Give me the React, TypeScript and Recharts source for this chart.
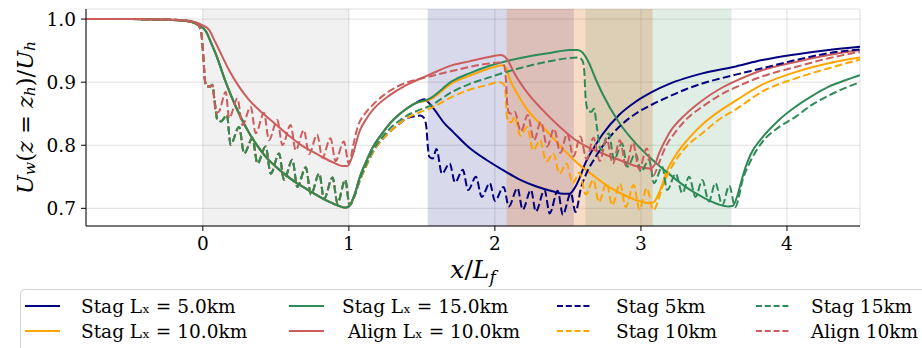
import React from 'react';
import { LineChart, Line, XAxis, YAxis, CartesianGrid, ReferenceArea } from 'recharts';

type Pt = [number, number];

const xTicks = [0, 1, 2, 3, 4];
const yTicks = [0.7, 0.8, 0.9, 1.0];

// shaded wind-farm extents in x/L_f
const bandStart = [0, 1.54, 2.08, 2.62, 2.08];
const bandEnd = [1, 2.54, 3.08, 3.62, 3.08];
const bandColors = ['#808080', '#000080', '#ffa500', '#2e8b57', '#cd5c5c'];

// first farm, staggered layouts (identical for all three)
const stagSolidFarm1: Pt[] = [
  [-0.8, 1.0], [-0.5, 1.0], [-0.25, 0.999], [-0.12, 0.997], [-0.06, 0.994], [-0.02, 0.989],
  [0.02, 0.981], [0.05, 0.966], [0.09, 0.944], [0.157, 0.9], [0.226, 0.861], [0.294, 0.829],
  [0.362, 0.803], [0.43, 0.782], [0.5, 0.766], [0.567, 0.753], [0.636, 0.741], [0.7, 0.732],
  [0.78, 0.721], [0.86, 0.711], [0.93, 0.704], [0.975, 0.701],
];
const stagSolidRise: Pt[] = [
  [1.0, 0.703], [1.04, 0.722], [1.073, 0.748], [1.12, 0.775], [1.164, 0.797], [1.22, 0.816],
  [1.278, 0.834], [1.34, 0.848], [1.39, 0.857], [1.45, 0.866],
];
const navySolidTail: Pt[] = [
  [1.49, 0.871], [1.517, 0.873], [1.545, 0.868], [1.574, 0.86], [1.6, 0.852], [1.65, 0.836],
  [1.71, 0.822], [1.825, 0.796], [1.94, 0.777], [2.053, 0.761], [2.167, 0.746], [2.28, 0.735],
  [2.394, 0.727], [2.47, 0.723], [2.51, 0.723], [2.54, 0.73], [2.58, 0.748], [2.62, 0.772],
  [2.68, 0.797], [2.736, 0.817], [2.85, 0.848], [2.964, 0.869], [3.08, 0.885], [3.19, 0.897],
  [3.3, 0.906], [3.42, 0.914], [3.65, 0.925], [3.83, 0.935], [4.058, 0.944], [4.286, 0.951], [4.5, 0.956],
];
const orangeSolidTail: Pt[] = [
  [1.552, 0.872], [1.71, 0.899], [1.825, 0.91], [1.94, 0.92], [2.03, 0.926], [2.06, 0.927],
  [2.078, 0.921], [2.1, 0.906], [2.167, 0.876], [2.21, 0.86], [2.326, 0.83], [2.44, 0.801],
  [2.554, 0.774], [2.668, 0.753], [2.78, 0.734], [2.896, 0.72], [3.01, 0.71], [3.065, 0.708],
  [3.09, 0.71], [3.115, 0.72], [3.146, 0.738], [3.17, 0.755], [3.24, 0.785], [3.32, 0.809],
  [3.42, 0.833], [3.53, 0.853], [3.65, 0.871], [3.83, 0.896], [4.058, 0.916], [4.286, 0.93], [4.5, 0.939],
];
const greenSolidTail: Pt[] = [
  [1.552, 0.874], [1.71, 0.902], [1.825, 0.914], [1.94, 0.924], [2.167, 0.938], [2.394, 0.947],
  [2.51, 0.951], [2.565, 0.951], [2.6, 0.947], [2.645, 0.93], [2.69, 0.905], [2.736, 0.882],
  [2.85, 0.836], [2.964, 0.803], [3.078, 0.777], [3.19, 0.755], [3.306, 0.734], [3.42, 0.718],
  [3.534, 0.706], [3.6, 0.703], [3.63, 0.704], [3.66, 0.72], [3.69, 0.745], [3.716, 0.765],
  [3.75, 0.785], [3.83, 0.812], [3.94, 0.839], [4.058, 0.861], [4.17, 0.878], [4.286, 0.893],
  [4.4, 0.903], [4.5, 0.911],
];
const alignSolid: Pt[] = [
  [-0.8, 1.0], [-0.5, 1.0], [-0.25, 0.9995], [-0.12, 0.998], [-0.05, 0.995], [0, 0.99],
  [0.043, 0.983], [0.08, 0.966], [0.112, 0.951], [0.18, 0.919], [0.248, 0.893], [0.316, 0.872],
  [0.408, 0.851], [0.5, 0.833], [0.59, 0.815], [0.681, 0.799], [0.743, 0.791], [0.82, 0.781],
  [0.9, 0.772], [0.96, 0.767], [0.99, 0.767], [1.02, 0.78], [1.073, 0.822], [1.12, 0.842],
  [1.164, 0.856], [1.278, 0.879], [1.39, 0.895], [1.483, 0.905], [1.552, 0.912], [1.71, 0.927],
  [1.825, 0.933], [1.94, 0.939], [2.04, 0.943], [2.07, 0.94], [2.1, 0.93], [2.12, 0.92],
  [2.21, 0.887], [2.326, 0.856], [2.44, 0.83], [2.554, 0.808], [2.62, 0.799], [2.736, 0.787],
  [2.85, 0.777], [2.964, 0.767], [3.067, 0.763], [3.1, 0.772], [3.124, 0.787], [3.19, 0.818],
  [3.306, 0.849], [3.42, 0.871], [3.53, 0.888], [3.65, 0.902], [3.83, 0.919], [4.058, 0.932],
  [4.286, 0.943], [4.5, 0.951],
];

const stagDashedFarm1: Pt[] = [
  [-0.8, 1.0], [-0.5, 1.0], [-0.2, 0.999], [-0.08, 0.996], [-0.03, 0.99], [-0.01, 0.977],
  [0.005, 0.935], [0.015, 0.902], [0.03, 0.893], [0.05, 0.893], [0.065, 0.896], [0.08, 0.872],
  [0.1, 0.84], [0.125, 0.838], [0.165, 0.848], [0.19, 0.801], [0.248, 0.829], [0.283, 0.787],
  [0.34, 0.811], [0.374, 0.771], [0.43, 0.798], [0.465, 0.755], [0.522, 0.787], [0.556, 0.745],
  [0.613, 0.777], [0.647, 0.734], [0.705, 0.765], [0.74, 0.722], [0.797, 0.755], [0.83, 0.715],
  [0.888, 0.749], [0.922, 0.708], [0.975, 0.745], [1.005, 0.705],
];
const stagDashedRise: Pt[] = [
  [1.04, 0.72], [1.073, 0.743], [1.12, 0.768], [1.164, 0.789], [1.22, 0.807], [1.278, 0.821],
  [1.34, 0.833], [1.39, 0.842],
];
const navyDashedTail: Pt[] = [
  [1.45, 0.846], [1.49, 0.847], [1.515, 0.843], [1.53, 0.83], [1.54, 0.8], [1.55, 0.782],
  [1.575, 0.779], [1.6, 0.794], [1.637, 0.755], [1.69, 0.771], [1.727, 0.741], [1.78, 0.761],
  [1.817, 0.729], [1.87, 0.75], [1.91, 0.718], [1.965, 0.74], [2.0, 0.712], [2.06, 0.734],
  [2.095, 0.703], [2.155, 0.732], [2.19, 0.698], [2.247, 0.729], [2.28, 0.695], [2.34, 0.729],
  [2.375, 0.692], [2.43, 0.728], [2.465, 0.69], [2.52, 0.724], [2.552, 0.694], [2.59, 0.733],
  [2.62, 0.752], [2.68, 0.778], [2.736, 0.798], [2.85, 0.829], [2.964, 0.85], [3.08, 0.865],
  [3.19, 0.877], [3.3, 0.888], [3.42, 0.898], [3.53, 0.905], [3.65, 0.912], [3.83, 0.922],
  [4.058, 0.935], [4.286, 0.946], [4.5, 0.952],
];
const orangeDashedTail: Pt[] = [
  [1.483, 0.852], [1.552, 0.858], [1.71, 0.877], [1.825, 0.888], [1.94, 0.895], [2.03, 0.9],
  [2.06, 0.897], [2.072, 0.885], [2.082, 0.846], [2.095, 0.837], [2.115, 0.837], [2.135, 0.845],
  [2.175, 0.815], [2.22, 0.829], [2.262, 0.792], [2.31, 0.808], [2.352, 0.774], [2.4, 0.787],
  [2.442, 0.755], [2.49, 0.771], [2.532, 0.74], [2.58, 0.757], [2.622, 0.722], [2.675, 0.745],
  [2.712, 0.71], [2.765, 0.74], [2.803, 0.705], [2.857, 0.739], [2.895, 0.702], [2.95, 0.737],
  [2.99, 0.698], [3.04, 0.732], [3.085, 0.697], [3.12, 0.714], [3.146, 0.733], [3.238, 0.776],
  [3.32, 0.8], [3.42, 0.819], [3.53, 0.84], [3.65, 0.857], [3.83, 0.885], [4.058, 0.906],
  [4.286, 0.922], [4.5, 0.936],
];
const greenDashedTail: Pt[] = [
  [1.04, 0.721], [1.073, 0.745], [1.12, 0.771], [1.164, 0.792], [1.22, 0.81], [1.278, 0.826],
  [1.34, 0.838], [1.39, 0.846], [1.483, 0.856], [1.552, 0.862], [1.71, 0.885], [1.825, 0.897],
  [1.94, 0.906], [2.167, 0.922], [2.394, 0.934], [2.5, 0.938], [2.575, 0.939], [2.6, 0.934],
  [2.612, 0.918], [2.622, 0.872], [2.64, 0.854], [2.662, 0.853], [2.678, 0.858], [2.7, 0.826],
  [2.725, 0.792], [2.78, 0.819], [2.816, 0.777], [2.87, 0.803], [2.907, 0.766], [2.964, 0.787],
  [3.0, 0.758], [3.055, 0.777], [3.09, 0.74], [3.146, 0.766], [3.18, 0.729], [3.238, 0.755],
  [3.283, 0.724], [3.33, 0.75], [3.374, 0.718], [3.42, 0.745], [3.465, 0.711], [3.51, 0.74],
  [3.557, 0.705], [3.605, 0.736], [3.645, 0.702], [3.7, 0.748], [3.74, 0.77], [3.83, 0.805],
  [3.94, 0.828], [4.058, 0.845], [4.17, 0.864], [4.286, 0.879], [4.4, 0.891], [4.5, 0.9],
];
const alignDashed: Pt[] = [
  [-0.8, 1.0], [-0.5, 1.0], [-0.2, 0.999], [-0.08, 0.996], [-0.03, 0.99], [-0.01, 0.977],
  [0.005, 0.935], [0.015, 0.902], [0.03, 0.893], [0.05, 0.893], [0.065, 0.895], [0.078, 0.872],
  [0.089, 0.851], [0.11, 0.853], [0.157, 0.885], [0.18, 0.843], [0.237, 0.874], [0.271, 0.832],
  [0.328, 0.861], [0.362, 0.819], [0.419, 0.851], [0.453, 0.808], [0.51, 0.84], [0.545, 0.8],
  [0.601, 0.832], [0.636, 0.792], [0.692, 0.824], [0.727, 0.786], [0.783, 0.817], [0.818, 0.78],
  [0.874, 0.811], [0.909, 0.775], [0.965, 0.806], [1.0, 0.771], [1.03, 0.8], [1.06, 0.829],
  [1.11, 0.85], [1.164, 0.864], [1.278, 0.886], [1.39, 0.899], [1.483, 0.905], [1.552, 0.909],
  [1.71, 0.918], [1.825, 0.924], [1.94, 0.929], [2.03, 0.931], [2.062, 0.927], [2.075, 0.905],
  [2.085, 0.865], [2.098, 0.851], [2.118, 0.85], [2.135, 0.853], [2.178, 0.822], [2.225, 0.848],
  [2.268, 0.808], [2.315, 0.837], [2.358, 0.798], [2.405, 0.826], [2.448, 0.788], [2.495, 0.818],
  [2.538, 0.782], [2.585, 0.814], [2.628, 0.778], [2.675, 0.812], [2.718, 0.775], [2.765, 0.81],
  [2.808, 0.771], [2.855, 0.808], [2.898, 0.767], [2.945, 0.804], [2.988, 0.762], [3.04, 0.795],
  [3.085, 0.752], [3.12, 0.77], [3.17, 0.798], [3.24, 0.822], [3.306, 0.84], [3.42, 0.861],
  [3.53, 0.878], [3.65, 0.892], [3.83, 0.909], [4.058, 0.924], [4.286, 0.938], [4.5, 0.948],
];

const toRows = (pts: Pt[]) => pts.map(([x, y]) => ({ x, y }));

const series = [
  { name: 'Stag Lₓ = 5.0km', color: '#000080', dashed: false, pts: [...stagSolidFarm1, ...stagSolidRise, ...navySolidTail] },
  { name: 'Stag Lₓ = 10.0km', color: '#ffa500', dashed: false, pts: [...stagSolidFarm1, ...stagSolidRise, ...orangeSolidTail] },
  { name: 'Stag Lₓ = 15.0km', color: '#2e8b57', dashed: false, pts: [...stagSolidFarm1, ...stagSolidRise, ...greenSolidTail] },
  { name: ' Align Lₓ = 10.0km', color: '#cd5c5c', dashed: false, pts: alignSolid },
  { name: 'Stag 5km', color: '#000080', dashed: true, pts: [...stagDashedFarm1, ...stagDashedRise, ...navyDashedTail] },
  { name: 'Stag 10km', color: '#ffa500', dashed: true, pts: [...stagDashedFarm1, ...stagDashedRise, ...orangeDashedTail] },
  { name: 'Stag 15km', color: '#2e8b57', dashed: true, pts: [...stagDashedFarm1, ...greenDashedTail] },
  { name: 'Align 10km', color: '#cd5c5c', dashed: true, pts: alignDashed },
];

const DASH = '7.7 3.3';
const SERIF = 'DejaVu Serif';

function YLabel({ viewBox }: any) {
  const cx = viewBox.x + 25;
  const cy = viewBox.y + viewBox.height / 2;
  return (
    <text x={cx} y={cy} transform={`rotate(-90, ${cx}, ${cy})`} textAnchor="middle" dominantBaseline="central"
      fontFamily={SERIF} fontSize={22.5} fill="#000">
      <tspan fontStyle="italic">U</tspan>
      <tspan fontStyle="italic" fontSize={15.5} dy={5}>w</tspan>
      <tspan dy={-5}>(</tspan>
      <tspan fontStyle="italic">z</tspan>
      <tspan> = </tspan>
      <tspan fontStyle="italic">z</tspan>
      <tspan fontStyle="italic" fontSize={15.5} dy={5}>h</tspan>
      <tspan dy={-5}>)/</tspan>
      <tspan fontStyle="italic">U</tspan>
      <tspan fontStyle="italic" fontSize={15.5} dy={5}>h</tspan>
    </text>
  );
}

function XLabel({ viewBox }: any) {
  const cx = viewBox.x + viewBox.width / 2;
  return (
    <text x={cx} y={viewBox.y + 52} textAnchor="middle" fontFamily={SERIF} fontSize={25} fill="#000">
      <tspan fontStyle="italic">x</tspan>
      <tspan>/</tspan>
      <tspan fontStyle="italic">L</tspan>
      <tspan fontStyle="italic" fontSize={17} dy={5}>f</tspan>
    </text>
  );
}

// legend layout (pixel positions of the 4x2 grid)
const legLineX = [25, 289, 557, 756];
const legTextX = [81, 342, 616, 811];
const legRowY = [306, 331];

function LegendBox() {
  return (
    <svg width={922} height={60} style={{ position: 'absolute', left: 0, top: 288 }}>
      <rect x={20.5} y={1.5} width={930} height={80} rx={4} fill="#fff" fillOpacity={0.8} stroke="#d3d3d3" />
      {series.map((s, i) => {
        const col = Math.floor(i / 2);
        const row = i % 2;
        const y = legRowY[row] - 288;
        return (
          <g key={s.name}>
            <line x1={legLineX[col]} x2={legLineX[col] + 35} y1={y} y2={y} stroke={s.color} strokeWidth={2}
              strokeDasharray={s.dashed ? '6 2.8' : undefined} />
            <text x={legTextX[col]} y={y} dominantBaseline="central" fontFamily="DejaVu Serif" fontSize={18.5}
              fill="#000" style={{ whiteSpace: 'pre' }}>{s.name}</text>
          </g>
        );
      })}
    </svg>
  );
}

export default function App() {
  const tick = { fontSize: 18.5, fill: '#000', fontFamily: SERIF };
  return (
    <div style={{ position: 'fixed', left: 0, top: 0, width: 922, height: 348, overflow: 'hidden', background: '#fff' }}>
      <LineChart width={922} height={348} margin={{ top: 9, right: 62, left: 0, bottom: 62 }}>
        {bandStart.map((s, i) => (
          <ReferenceArea key={i} x1={s} x2={bandEnd[i]} fill={bandColors[i]} fillOpacity={i === 0 ? 0.11 : 0.15}
            stroke="none" ifOverflow="visible" />
        ))}
        <CartesianGrid stroke="#b0b0b0" strokeOpacity={0.4} />
        <XAxis dataKey="x" type="number" domain={[-0.8, 4.5]} ticks={xTicks} allowDataOverflow
          tick={tick} tickSize={5} tickMargin={6} stroke="#000" height={60} label={<XLabel />} />
        <XAxis xAxisId="top" orientation="top" type="number" domain={[-0.8, 4.5]} ticks={xTicks}
          tick={false} tickLine={false} height={0} stroke="#000" />
        <YAxis type="number" domain={[0.672, 1.016]} ticks={yTicks} allowDataOverflow
          tickFormatter={(v: number) => v.toFixed(1)} tick={tick} tickSize={5} tickMargin={5} stroke="#000"
          width={86} label={<YLabel />} />
        <YAxis yAxisId="right" orientation="right" type="number" domain={[0.672, 1.016]} ticks={yTicks}
          tick={false} tickLine={false} width={0} stroke="#000" />
        {series.map((s) => (
          <Line key={s.name} data={toRows(s.pts)} dataKey="y" type="monotone" stroke={s.color} strokeWidth={2}
            strokeDasharray={s.dashed ? DASH : undefined} dot={false} activeDot={false} isAnimationActive={false} />
        ))}
      </LineChart>
      <LegendBox />
    </div>
  );
}
